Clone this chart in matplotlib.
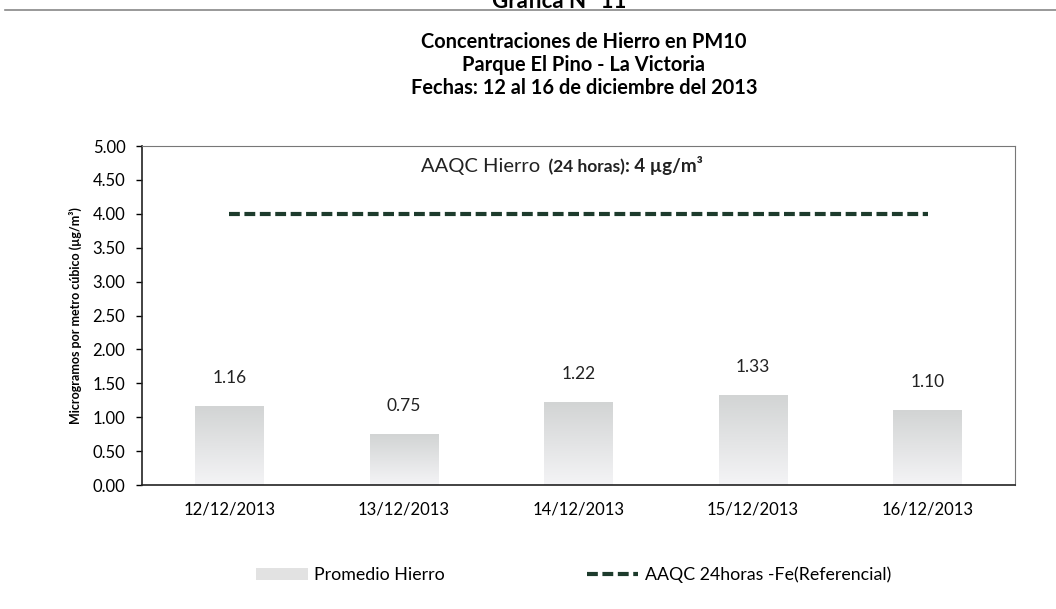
import numpy as np
import matplotlib.pyplot as plt
from matplotlib.lines import Line2D
from matplotlib.patches import Patch
from matplotlib.colors import LinearSegmentedColormap

plt.rcParams['font.family'] = ['Lato', 'DejaVu Sans']

fechas = ["12/12/2013", "13/12/2013", "14/12/2013", "15/12/2013", "16/12/2013"]
promedio_hierro = [1.16, 0.75, 1.22, 1.33, 1.10]
aaqc_fe = [4.0, 4.0, 4.0, 4.0, 4.0]
yticks = [0.0, 0.5, 1.0, 1.5, 2.0, 2.5, 3.0, 3.5, 4.0, 4.5, 5.0]

fig = plt.figure(figsize=(10.56, 6.09), dpi=100)
ax = fig.add_axes([0.1345, 0.2036, 0.8265, 0.5566])

x = np.arange(len(fechas))
bars = ax.bar(x, promedio_hierro, width=0.39, facecolor="none", edgecolor="none")

# light grey (top) -> almost white (bottom) gradient inside every bar
cmap = LinearSegmentedColormap.from_list("barfill", ["#f4f4f6", "#d2d4d4"])
grad = np.linspace(0, 1, 256).reshape(-1, 1)
for b in bars:
    x0, w, h = b.get_x(), b.get_width(), b.get_height()
    im = ax.imshow(grad, cmap=cmap, aspect="auto",
                   extent=[x0, x0 + w, 0, h], origin="lower", zorder=1)
    im.set_clip_path(b)

for xi, v in zip(x, promedio_hierro):
    ax.text(xi, v + 0.3, f"{v:.2f}", ha="center", va="bottom", fontsize=12.5,
            color="#222222")

ax.plot(x, aaqc_fe, color="#1d3b2c", lw=3, dashes=(2.6, 1.1), zorder=3)

t1 = ax.text(1.10, 4.62, "AAQC Hierro", fontsize=14.5, color="#222222",
             ha="left", va="baseline")
t2 = ax.annotate("  (24 horas)", xy=(1, 0), xycoords=t1, fontsize=12.5,
                 color="#222222", va="bottom", fontweight="bold")
ax.annotate(": 4 µg/m³", xy=(1, 0), xycoords=t2, fontsize=13.5,
            color="#222222", va="bottom", fontweight="bold")

ax.set_xlim(-0.5, 4.5)
ax.set_ylim(0, 5)
ax.set_yticks(yticks)
ax.set_yticklabels([f"{t:.2f}" for t in yticks], fontsize=12)
ax.set_xticks(x)
ax.set_xticklabels(fechas, fontsize=12)
ax.tick_params(axis="x", length=0, pad=12)
ax.tick_params(axis="y", length=4, width=1, pad=8)
ax.set_ylabel("Microgramos por metro cúbico (µg/m³)", fontsize=9,
              fontweight="bold", labelpad=8)
for s in ["left", "bottom"]:
    ax.spines[s].set_color("#222222")
    ax.spines[s].set_linewidth(1.2)
for s in ["top", "right"]:
    ax.spines[s].set_color("#777777")
    ax.spines[s].set_linewidth(0.8)

fig.text(0.553, 0.931, "Concentraciones de Hierro en PM10", ha="center",
         va="center", fontsize=14.4, fontweight="bold")
fig.text(0.553, 0.893, "Parque El Pino - La Victoria", ha="center",
         va="center", fontsize=14.4, fontweight="bold")
fig.text(0.553, 0.855, "Fechas: 12 al 16 de diciembre del 2013", ha="center",
         va="center", fontsize=14.4, fontweight="bold")
# header of the scanned page, partly cut at the top edge as in the original
fig.text(0.53, 0.998, "Gráfica N° 11", ha="center", va="center",
         fontsize=16, fontweight="bold")
fig.add_artist(Line2D([0.005, 1.0], [0.984, 0.984], color="#888888", lw=1.2))

handles = [Patch(facecolor="#e2e2e2", edgecolor="none"),
           Line2D([0], [0], color="#1d3b2c", lw=3, dashes=(2.6, 1.1))]
fig.legend(handles, ["Promedio Hierro", "AAQC 24horas -Fe(Referencial)"],
           loc="center", bbox_to_anchor=(0.543, 0.056), ncol=2, frameon=False,
           fontsize=12.8, columnspacing=8, handlelength=2.9, handletextpad=0.35)

fig.savefig("out.png", dpi=100)
